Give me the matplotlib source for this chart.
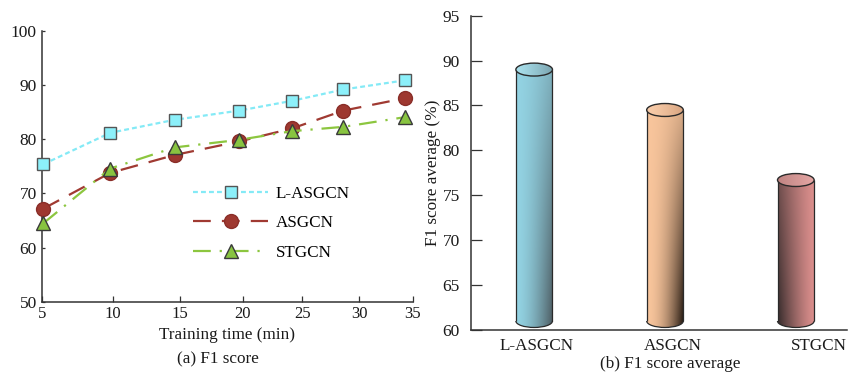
import numpy as np
import matplotlib
matplotlib.use('Agg')
import matplotlib.pyplot as plt
from matplotlib.patches import Ellipse, Arc
from matplotlib.colors import to_rgb

# ---------------- data ----------------
time_min = [5.1, 9.8, 14.6, 19.7, 24.1, 28.6, 34.3]
f1_lasgcn = [75.4, 81.2, 83.6, 85.3, 87.1, 89.2, 90.9]
f1_asgcn = [67.2, 73.8, 77.1, 79.6, 82.0, 85.3, 87.6]
f1_stgcn = [64.5, 74.6, 78.5, 79.9, 81.5, 82.3, 84.1]
x_ticks_a = [5, 10, 15, 20, 25, 30, 35]
y_ticks_a = [50, 60, 70, 80, 90, 100]

models = ['L-ASGCN', 'ASGCN', 'STGCN']
f1_avg = [89.0, 84.5, 76.7]
y_ticks_b = [60, 65, 70, 75, 80, 85, 90, 95]

plt.rcParams['font.family'] = ['Liberation Serif', 'DejaVu Serif']
TXT = '#1a1a1a'
SP = '#333333'

fig = plt.figure(figsize=(8.48, 3.81), dpi=100)

# ---------------- (a) line chart ----------------
ax1 = fig.add_axes([0.0495, 0.2081, 0.4372, 0.7105])
fwd = lambda x: np.log(np.asarray(x, dtype=float) + 70.0)
inv = lambda y: np.exp(y) - 70.0
ax1.set_xscale('function', functions=(fwd, inv))
ax1.set_xlim(5, 35)
ax1.set_ylim(50, 100)

l1, = ax1.plot(time_min, f1_lasgcn, color='#84eaf6', lw=1.6, dashes=(2.2, 1.4),
               marker='s', ms=9, mfc='#8cf0fa', mec='#555555', mew=1.0,
               clip_on=False, zorder=3)
l2, = ax1.plot(time_min, f1_asgcn, color='#a03a32', lw=1.6, dashes=(8, 5),
               marker='o', ms=10, mfc='#9e3830', mec='#8a2e28', mew=1.0,
               clip_on=False, zorder=3)
l3, = ax1.plot(time_min, f1_stgcn, color='#8cc63f', lw=1.6, dashes=(8, 4, 1, 4),
               marker='^', ms=9.5, mfc='#88c440', mec='#3a3a3a', mew=1.0,
               clip_on=False, zorder=3)

for s in ['top', 'right']:
    ax1.spines[s].set_visible(False)
for s in ['left', 'bottom']:
    ax1.spines[s].set_color(SP)
    ax1.spines[s].set_linewidth(1.1)
ax1.set_xticks(x_ticks_a)
ax1.set_xticklabels([str(v) for v in x_ticks_a])
ax1.xaxis.set_minor_locator(matplotlib.ticker.NullLocator())
ax1.set_yticks(y_ticks_a)
ax1.tick_params(axis='y', direction='in', length=2.5, width=0.9, pad=3.8,
                labelsize=12.5, colors=SP, labelcolor=TXT)
ax1.tick_params(axis='x', direction='in', length=4.5, width=0.9, pad=3.0,
                labelsize=12, colors=SP, labelcolor=TXT)
ax1.set_xlabel('Training time (min)', fontsize=12.3, color=TXT, labelpad=4)

ax1.legend([l1, l2, l3], ['L-ASGCN', 'ASGCN', 'STGCN'], loc='upper left',
           bbox_to_anchor=(0.2276, 0.512), bbox_transform=fig.transFigure,
           frameon=False, handlelength=4.4, handletextpad=0.45,
           labelspacing=0.78, borderpad=0, borderaxespad=0, fontsize=12.3,
           numpoints=1)

fig.text(218 / 848, 1 - 359 / 381, '(a) F1 score', ha='center', va='center',
         fontsize=12.3, color=TXT)

# ---------------- (b) cylinder bars ----------------
ax2 = fig.add_axes([0.5554, 0.1339, 0.4440, 0.8249])
XL = (-0.483, 2.395)
YL = (60, 95)

def grad_img(c0, c1, fn, nu=80, nv=240):
    u = np.linspace(0, 1, nu)[None, :]
    v = np.linspace(0, 1, nv)[:, None]
    t = np.clip(fn(u, v), 0, 1)
    a = np.array(to_rgb(c0)); b = np.array(to_rgb(c1))
    return a + (b - a) * t[..., None]

styles = [
    dict(c0='#93d3e3', c1='#4c5a60', fn=lambda u, v: u ** 1.6 * (0.3 + 0.7 * v),
         t0='#a8dfeb', t1='#7aa3ae', tfn=lambda u, v: u ** 1.3 + 0 * v),
    dict(c0='#f8c59c', c1='#1c120b', fn=lambda u, v: u ** 1.9 * (0.15 + 0.85 * v),
         t0='#f8cba8', t1='#d6a27e', tfn=lambda u, v: u ** 1.5 + 0 * v),
    dict(c0='#dc8f8d', c1='#352b2b', fn=lambda u, v: (1 - u) ** 1.3 * (0.65 + 0.35 * v),
         t0='#c08482', t1='#e6a8a6', tfn=lambda u, v: u + 0 * v),
]

w = 0.28
eh = 1.44
base = 61.0
xpos = np.arange(len(models))
bars = ax2.bar(xpos, np.array(f1_avg) - base, bottom=base, width=w,
               color='none', edgecolor='none', zorder=2)
edge = '#2a2a2a'
for i, (b, val, st) in enumerate(zip(bars, f1_avg, styles)):
    x = xpos[i]
    img = grad_img(st['c0'], st['c1'], st['fn'])
    bot = Ellipse((x, base), w, eh, facecolor='none', edgecolor='none')
    ax2.add_patch(bot)
    for clip in (b, bot):
        im = ax2.imshow(img, extent=[x - w / 2, x + w / 2, base - eh / 2, val],
                        aspect='auto', interpolation='bilinear', zorder=2)
        im.set_clip_path(clip)
    ax2.vlines([x - w / 2, x + w / 2], base, val, colors=edge, lw=0.9, zorder=4)
    ax2.add_patch(Arc((x, base), w, eh, theta1=180, theta2=360, color=edge,
                      lw=0.9, zorder=4))
    top = Ellipse((x, val), w, eh, facecolor='none', edgecolor='none')
    ax2.add_patch(top)
    timg = grad_img(st['t0'], st['t1'], st['tfn'], nv=40)
    im = ax2.imshow(timg, extent=[x - w / 2, x + w / 2, val - eh / 2, val + eh / 2],
                    aspect='auto', interpolation='bilinear', zorder=5)
    im.set_clip_path(top)
    ax2.add_patch(Ellipse((x, val), w, eh, facecolor='none', edgecolor=edge,
                          lw=1.0, zorder=6))

ax2.set_xlim(*XL)
ax2.set_ylim(*YL)
for s in ['top', 'right']:
    ax2.spines[s].set_visible(False)
for s in ['left', 'bottom']:
    ax2.spines[s].set_color(SP)
    ax2.spines[s].set_linewidth(1.1)
label_shift = [0.02, 0.06, 0.18]
ax2.set_xticks(xpos + np.array(label_shift))
ax2.set_xticklabels(models)
ax2.set_yticks(y_ticks_b)
ax2.tick_params(axis='y', direction='in', length=8, width=0.9, pad=8,
                labelsize=12.5, colors=SP, labelcolor=TXT)
ax2.tick_params(axis='x', length=0, pad=5.5, labelsize=12.3, labelcolor=TXT)
ax2.set_ylabel('F1 score average (%)', fontsize=12.3, color=TXT, labelpad=1.5)

fig.text(670 / 848, 1 - 364 / 381, '(b) F1 score average', ha='center',
         va='center', fontsize=12.3, color=TXT)

fig.savefig('out.png', dpi=100)
